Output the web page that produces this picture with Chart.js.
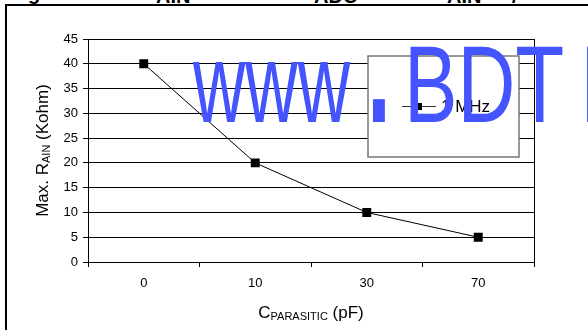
<!DOCTYPE html>
<html>
<head>
<meta charset="utf-8">
<script src="https://cdn.jsdelivr.net/npm/chart.js@4.4.0/dist/chart.umd.min.js"></script>
<style>
  html, body { margin: 0; padding: 0; background: #fff; overflow: hidden; }
  #wrap { position: relative; width: 588px; height: 330px; overflow: hidden; }
  #frame { position: absolute; left: 5px; top: 4px; width: 700px; height: 400px;
           border-left: 2px solid #000; border-top: 2px solid #000; }
  #chart { position: absolute; left: 0; top: 0; }
  .cut { position: absolute; font: bold 20px "Liberation Sans", Arial, sans-serif; line-height: 20px; color: #000; white-space: nowrap; }
</style>
</head>
<body>
<div id="wrap">
  <!-- caption above the box, only its lowest pixels show -->
  <span class="cut" style="left:28px; top:-17px;">g</span>
  <span class="cut" style="left:156px; top:-14px;">AIN</span>
  <span class="cut" style="left:314px; top:-14px;">ADC</span>
  <span class="cut" style="left:447px; top:-14px;">AIN</span>
  <span class="cut" style="left:512px; top:-14px;">/</span>
  <div id="frame"></div>
  <canvas id="chart" width="588" height="330"></canvas>
</div>
<script>
const capLabels = ['0', '10', '30', '70'];
const rainKohm = [40, 20, 10, 5];
const seriesName = '1 MHz';
const yMax = 45;
const yStep = 5;

const FONT = '"Liberation Sans", Arial, sans-serif';

// draw text made of parts [{t, size, dy}] centred on (0,0) of current transform
function drawParts(ctx, parts) {
    let total = 0;
    parts.forEach(p => {
        ctx.font = p.size + 'px ' + FONT;
        p.w = ctx.measureText(p.t).width;
        total += p.w;
    });
    let x = -total / 2;
    ctx.textAlign = 'left';
    ctx.textBaseline = 'alphabetic';
    parts.forEach(p => {
        ctx.font = p.size + 'px ' + FONT;
        ctx.fillText(p.t, x, p.dy || 0);
        x += p.w;
    });
}

// watermark piece, squeezed/stretched around its baseline
function drawStretched(ctx, text, x, base, sx, sy) {
    ctx.save();
    ctx.font = '109px ' + FONT;
    ctx.translate(x, base);
    ctx.scale(sx, sy);
    ctx.textAlign = 'left';
    ctx.textBaseline = 'alphabetic';
    ctx.fillText(text, 0, 0);
    ctx.restore();
}

const extras = {
    id: 'extras',
    afterDraw(chart) {
        const ctx = chart.ctx;
        const a = chart.chartArea;
        ctx.save();
        ctx.fillStyle = '#000';

        // right edge of plot area
        ctx.strokeStyle = '#000';
        ctx.lineWidth = 1;
        ctx.beginPath();
        ctx.moveTo(Math.round(a.right) + 0.5, a.top);
        ctx.lineTo(Math.round(a.right) + 0.5, a.bottom + 3);
        ctx.stroke();

        // legend box
        ctx.fillStyle = '#fff';
        ctx.fillRect(368, 56, 151, 101);
        ctx.strokeStyle = '#777';
        ctx.lineWidth = 1.5;
        ctx.strokeRect(368, 56, 151, 101);
        const ds = chart.data.datasets[0];
        ctx.strokeStyle = '#333';
        ctx.lineWidth = 1;
        ctx.beginPath();
        ctx.moveTo(402, 106.5);
        ctx.lineTo(436, 106.5);
        ctx.stroke();
        ctx.fillStyle = '#000';
        ctx.fillRect(417, 103, 5, 7);
        ctx.font = '17px ' + FONT;
        ctx.textAlign = 'left';
        ctx.textBaseline = 'middle';
        ctx.fillText(ds.label, 441, 107);

        // y axis title
        ctx.save();
        ctx.translate(48, (a.top + a.bottom) / 2);
        ctx.rotate(-Math.PI / 2);
        drawParts(ctx, [
            { t: 'Max. R', size: 17 },
            { t: 'AIN', size: 11, dy: 2 },
            { t: ' (Kohm)', size: 17 }
        ]);
        ctx.restore();

        // x axis title
        ctx.save();
        ctx.translate((a.left + a.right) / 2, 318);
        drawParts(ctx, [
            { t: 'C', size: 17 },
            { t: 'PARASITIC', size: 11, dy: 2 },
            { t: ' (pF)', size: 17 }
        ]);
        ctx.restore();

        // watermark
        ctx.fillStyle = '#4455ff';
        drawStretched(ctx, 'www', 193, 122, 0.665, 1.04);
        drawStretched(ctx, '.', 361.5, 122, 1.15, 1.95);
        drawStretched(ctx, 'BDT', 404, 122, 0.735, 1);
        drawStretched(ctx, 'I', 580, 122, 0.7, 1);

        ctx.restore();
    }
};

new Chart(document.getElementById('chart').getContext('2d'), {
    type: 'line',
    data: {
        labels: capLabels,
        datasets: [{
            label: seriesName,
            data: rainKohm,
            borderColor: '#000',
            borderWidth: 1,
            backgroundColor: '#000',
            pointStyle: 'rect',
            pointRadius: 6.3,
            pointBorderWidth: 0,
            pointBackgroundColor: '#000',
            tension: 0
        }]
    },
    options: {
        responsive: false,
        animation: false,
        devicePixelRatio: 1,
        layout: { padding: { top: 39, right: 54, left: 0, bottom: 0 } },
        plugins: {
            legend: { display: false },
            tooltip: { enabled: false },
            title: { display: false }
        },
        scales: {
            x: {
                offset: true,
                grid: { offset: true, drawOnChartArea: false, tickLength: 5, color: '#000' },
                border: { color: '#000' },
                ticks: { color: '#000', padding: 9, font: { family: FONT, size: 13 }, maxRotation: 0 },
                afterFit(scale) { scale.height = 68; }
            },
            y: {
                min: 0,
                max: yMax,
                grid: { color: '#000', tickLength: 5 },
                border: { color: '#000' },
                ticks: { stepSize: yStep, color: '#000', padding: 5, font: { family: FONT, size: 13 } },
                afterFit(scale) { scale.width = 88; }
            }
        }
    },
    plugins: [extras]
});
</script>
</body>
</html>
